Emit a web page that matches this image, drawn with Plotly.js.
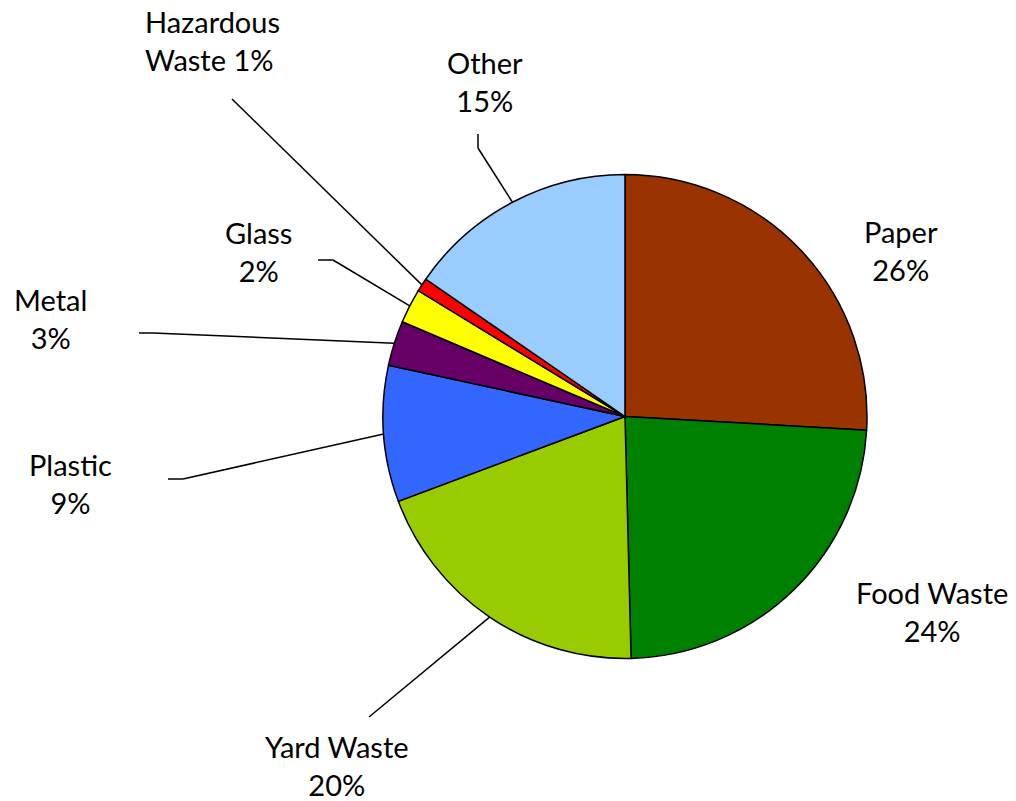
<!DOCTYPE html>
<html>
<head>
<meta charset="utf-8">
<script src="https://cdn.plot.ly/plotly-3.0.1.min.js"></script>
<style>html,body{margin:0;padding:0;background:#fff;}#chart{width:1016px;height:801px;}</style>
</head>
<body>
<div id="chart"></div>
<script>
// ---- data ----
var categories = ["Paper", "Food Waste", "Yard Waste", "Plastic", "Metal", "Glass", "Hazardous Waste", "Other"];
var shares = [25.9, 23.7, 19.7, 9.1, 3.0, 2.3, 0.9, 15.4];
var sliceColors = ["#993300", "#008000", "#99CC00", "#3366FF", "#660066", "#FFFF00", "#FF0000", "#99CCFF"];
// label text lines (category name broken over lines like the original)
var labelNames = ["Paper", "Food Waste", "Yard Waste", "Plastic", "Metal", "Glass", "Hazardous<br>Waste", "Other"];
var labelSep = ["<br>", "<br>", "<br>", "<br>", "<br>", "<br>", " ", "<br>"];

// ---- layout constants (pixels in 1016x801 page) ----
var W = 1016, H = 801;
var CX = 625, CY = 416.5, R = 242;
var labelPos = [[901, 250], [932, 611], [337, 765], [70, 483], [50, 318], [258, 251], [212, 40], [485, 81]];
// leader line bend points (from label side toward the pie), null = no leader
var leaderPts = [null, null, [[369, 717]], [[168, 479], [183, 479]], [[139, 333], [153, 333]],
  [[318, 260], [333, 260]], [[232, 99]], [[478, 134], [478, 148]]];

function px(x) { return x / W; }
function py(y) { return 1 - y / H; }

var total = shares.reduce(function (a, b) { return a + b; }, 0);
var cum = 0;
var annotations = [], shapes = [];
for (var i = 0; i < shares.length; i++) {
  var mid = (cum + shares[i] / 2) / total * 2 * Math.PI;
  cum += shares[i];
  var ex = CX + R * Math.sin(mid), ey = CY - R * Math.cos(mid);
  var pct = Math.round(shares[i] / total * 100) + "%";
  annotations.push({
    xref: "paper", yref: "paper", x: px(labelPos[i][0]), y: py(labelPos[i][1]),
    xanchor: "center", yanchor: "middle", showarrow: false,
    text: labelNames[i] + labelSep[i] + pct, align: i === 6 ? "left" : "center",
    font: {family: "Lato, 'Open Sans', sans-serif", size: 29, color: "#000"}
  });
  if (leaderPts[i]) {
    var pts = leaderPts[i].concat([[ex, ey]]);
    for (var k = 0; k < pts.length - 1; k++) {
      shapes.push({type: "line", xref: "paper", yref: "paper",
        x0: px(pts[k][0]), y0: py(pts[k][1]), x1: px(pts[k + 1][0]), y1: py(pts[k + 1][1]),
        line: {color: "#000", width: 1.5}});
    }
  }
}

var trace = {
  type: "pie",
  labels: categories,
  values: shares,
  sort: false,
  direction: "clockwise",
  rotation: 0,
  textinfo: "none",
  hoverinfo: "label+percent",
  marker: {colors: sliceColors, line: {color: "#000", width: 1.5}},
  domain: {x: [px(CX - R), px(CX + R)], y: [py(CY + R), py(CY - R)]}
};

Plotly.newPlot("chart", [trace], {
  width: W, height: H,
  margin: {l: 0, r: 0, t: 0, b: 0},
  paper_bgcolor: "#fff",
  showlegend: false,
  annotations: annotations,
  shapes: shapes
}, {displayModeBar: false, staticPlot: true});
</script>
</body>
</html>
